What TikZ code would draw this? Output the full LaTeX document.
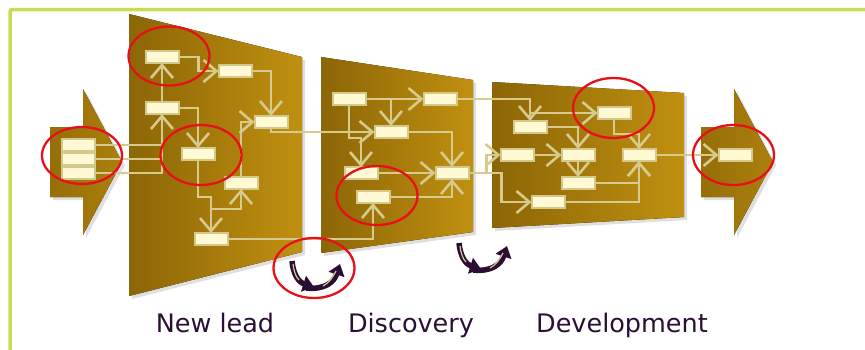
\documentclass[tikz,border=0pt]{standalone}
\usepackage{fontspec}
\newfontfamily\labfont{DejaVu Sans}
\usetikzlibrary{arrows.meta,shadows,calc}
\definecolor{panelL}{RGB}{140,102,6}
\definecolor{panelR}{RGB}{192,144,16}
\definecolor{arrL}{RGB}{150,110,8}
\definecolor{arrR}{RGB}{172,128,14}
\definecolor{conncol}{RGB}{214,203,140}
\definecolor{nodefill}{RGB}{255,250,212}
\definecolor{nodedraw}{RGB}{212,200,138}
\definecolor{ringred}{RGB}{232,16,24}
\definecolor{framegreen}{RGB}{200,221,84}
\definecolor{labcol}{RGB}{42,16,50}
\definecolor{cyccol}{RGB}{44,14,52}
\tikzset{
  panel/.style={left color=panelL, right color=panelR, draw=none,
    drop shadow={shadow xshift=3pt, shadow yshift=-3pt, opacity=0.25}},
  bigarrow/.style={left color=arrL, right color=arrR, draw=none,
    drop shadow={shadow xshift=3pt, shadow yshift=-3pt, opacity=0.25}},
  task/.style={draw=nodedraw, fill=nodefill, line width=2pt,
    minimum width=31pt, minimum height=10pt, inner sep=0pt},
  conn/.style={draw=conncol, line width=2.6pt},
  arr/.style={conn, -{Straight Barb[length=13pt,width=22pt]}},
  ring/.style={draw=ringred, line width=2.3pt},
  lab/.style={font=\labfont\fontsize{25.5}{30}\selectfont, text=labcol, anchor=base, inner sep=0pt},
  cyc/.style={draw=cyccol, line width=5.5pt, -{Triangle[length=11pt,width=16pt]}},
  cycin/.style={draw=conncol, line width=1.2pt}
}
\begin{document}
\begin{tikzpicture}[x=1pt,y=-1pt]
\useasboundingbox (0,0) rectangle (865,349);
% frame
\draw[framegreen, line width=3.5pt, rounded corners=2pt] (866,9.5) -- (10,9.5) -- (10,350);

% input arrow
\fill[bigarrow] (50,127) -- (83,127) -- (83,89) -- (122,162) -- (83,235) -- (83,197) -- (50,197) -- cycle;
% panels
\fill[panel] (129,14) -- (302,57) -- (302,252) -- (129,296) -- cycle;
\fill[panel] (321,57) -- (473,80) -- (473,232) -- (321,253) -- cycle;
\fill[panel] (492,82) -- (684,93) -- (684,217) -- (492,228) -- cycle;
% output arrow
\fill[bigarrow] (701,127) -- (734,127) -- (734,89) -- (773,162) -- (734,235) -- (734,197) -- (701,197) -- cycle;

% nodes
\node[task] (inA) at (78,145) {};
\node[task] (inB) at (78,159) {};
\node[task] (inC) at (78,173) {};
\node[task] (A1) at (162,57) {};
\node[task] (A2) at (235,71) {};
\node[task] (A3) at (162,108) {};
\node[task] (A4) at (271,122) {};
\node[task] (A5) at (198,154) {};
\node[task] (A6) at (241,183) {};
\node[task] (A7) at (211,239) {};
\node[task] (B1) at (349,99) {};
\node[task] (B2) at (440,99) {};
\node[task] (B3) at (391,132) {};
\node[task] (B4) at (361,173) {};
\node[task] (B5) at (373,197) {};
\node[task] (B6) at (452,173) {};
\node[task] (C1) at (530,127) {};
\node[task] (C2) at (614,113) {};
\node[task] (C3) at (517,155) {};
\node[task] (C4) at (578,155) {};
\node[task] (C5) at (639,155) {};
\node[task] (C6) at (578,183) {};
\node[task] (C7) at (548,202) {};
\node[task] (out) at (735,155) {};

% connectors
\draw[conn] (inA.east) -- (inA.east -| A3.south);
\draw[conn] (inB.east) -- (inB.east -| A3.south);
\draw[arr] (inC.east) -| (A3.south);
\draw[arr] (A3.north) -- (A1.south);
\draw[arr] (A1.east) -- ++(20,0) |- (A2.west);
\draw[arr] (A2.east) -| (A4.north);
\draw[arr] (A3.east) -| (A5.north);
\draw[arr] (A5.south) -- ++(0,37) -| (A7.north);
\coordinate (j1) at ($(A7.north)+(0,-24)$);
\draw[arr] (j1) -| (A6.south);
\draw[arr] (A6.north) |- (A4.west);
\draw[arr] (A4.south) |- (B3.west);
\draw[arr] (A7.east) -| (B5.south);
\draw[arr] (B1.east) -- (B2.west);
\coordinate (j2) at (B3.north |- B1.east);
\draw[arr] (j2) -- (B3.north);
\draw[arr] (B1.south) -- ++(0,33) -| (B4.north);
\draw[arr] (B3.east) -| (B6.north);
\draw[arr] (B4.east) -- (B6.west);
\draw[arr] (B5.east) -| (B6.south);
\draw[arr] (B2.east) -| (C1.north);
\coordinate (j3) at (C1.north |- C2.west);
\draw[arr] (j3) -- (C2.west);
\draw[arr] (B6.east) -- ++(18,0) |- (C3.west);
\draw[arr] (B6.east) -- ++(33,0) |- (C7.west);
\draw[arr] (C1.east) -| (C4.north);
\draw[arr] (C2.south) -- ++(0,15) -| (C5.north);
\draw[arr] (C3.east) -- (C4.west);
\draw[arr] (C4.south) -- (C6.north);
\draw[arr] (C6.east) -| (C5.south);
\draw[arr] (C7.east) -| (C5.south);
\draw[arr] (C5.east) -- (out.west);

% redraw nodes on top
\foreach \n in {inA,inB,inC,A1,A2,A3,A4,A5,A6,A7,B1,B2,B3,B4,B5,B6,C1,C2,C3,C4,C5,C6,C7,out}{
  \draw[draw=nodedraw, fill=nodefill, line width=2pt] (\n.south west) rectangle (\n.north east);
}

% cycle arrows
\foreach \dx/\dy in {0/0, 167/-18}{
  \begin{scope}[shift={(\dx,\dy)}]
    \draw[cyc] (306,288) .. controls (325,290) and (334,282) .. (340,264);
    \draw[cyc] (292,261) .. controls (293,273) and (298,282) .. (314,287);
    \draw[cycin] (293,264) .. controls (294,272) and (296,277) .. (299,280);
    \draw[cycin] (323,286) .. controls (329,283) and (333,277) .. (336,271);
  \end{scope}
}

% red rings
\draw[ring] (82,155.5) ellipse [x radius=40, y radius=28.5];
\draw[ring] (169,56) ellipse [x radius=40.5, y radius=29.5];
\draw[ring] (201,155) ellipse [x radius=40.5, y radius=30];
\draw[ring] (314,268) ellipse [x radius=40.5, y radius=30];
\draw[ring] (377,195.5) ellipse [x radius=40.5, y radius=29.5];
\draw[ring] (613.5,108) ellipse [x radius=40.5, y radius=30];
\draw[ring] (733.5,155) ellipse [x radius=40.5, y radius=30];

% labels
\node[lab] (l1) at (215,332) {New lead};
\node[lab] (l2) at (411,332) {Discovery};
\node[lab] (l3) at (622,332) {Development};
\end{tikzpicture}
\end{document}
